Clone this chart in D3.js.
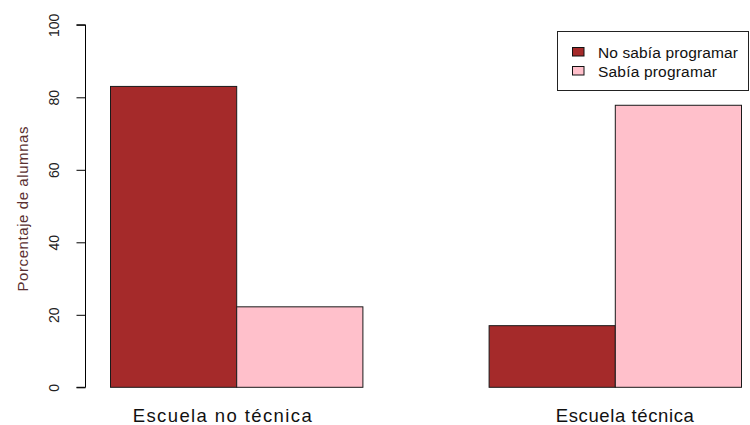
<!DOCTYPE html>
<html>
<head>
<meta charset="utf-8">
<script src="https://cdn.jsdelivr.net/npm/d3@7"></script>
<style>
  body { margin: 0; background: #fff; }
  svg { display: block; font-family: "Liberation Sans", Arial, sans-serif; }
</style>
</head>
<body>
<svg id="chart" width="750" height="425"></svg>
<script>
// Percentage of students by school type and prior programming knowledge
const schools = ["Escuela no técnica", "Escuela técnica"];
const seriesNames = ["No sabía programar", "Sabía programar"];
const noSabia = [83, 17];
const sabia = [22.2, 77.8];
const yTicks = [0, 20, 40, 60, 80, 100];
const colors = ["#A52A2A", "#FFC0CB"];

const svg = d3.select("#chart");
const values = [noSabia, sabia];

// Unit band layout: each group of two bars, one empty unit between groups
const x = d3.scaleLinear().domain([1, 6]).range([110.5, 741.5]);
const y = d3.scaleLinear().domain([0, 100]).range([387.3, 24.8]);

const bars = [];
schools.forEach((s, gi) => {
  seriesNames.forEach((n, si) => {
    const start = 1 + gi * 3 + si;
    bars.push({ x0: start, x1: start + 1, v: values[si][gi], c: colors[si] });
  });
});

svg.append("g").selectAll("rect").data(bars).join("rect")
  .attr("x", d => x(d.x0))
  .attr("width", d => x(d.x1) - x(d.x0))
  .attr("y", d => y(d.v))
  .attr("height", d => y(0) - y(d.v))
  .attr("fill", d => d.c)
  .attr("stroke", "#1a1a1a")
  .attr("stroke-width", 1);

// Y axis with rotated tick labels
const yAxis = d3.axisLeft(y).tickValues(yTicks).tickSize(9);
const gy = svg.append("g").attr("transform", "translate(85.5,0)").call(yAxis);
gy.select(".domain").attr("stroke", "#000").attr("d", `M-9,${y(0)}H0V${y(100)}H-9`);
gy.selectAll(".tick line").attr("stroke", "#000");
gy.selectAll(".tick text")
  .attr("font-size", 14)
  .attr("fill", "#222")
  .attr("font-family", "Liberation Sans, Arial, sans-serif")
  .attr("x", 0)
  .attr("y", 0)
  .attr("dy", 0)
  .attr("text-anchor", "middle")
  .attr("transform", "translate(-26.5,0) rotate(-90)");

// Y axis title
svg.append("text")
  .attr("transform", `translate(28,209) rotate(-90)`)
  .attr("text-anchor", "middle")
  .attr("font-size", 15)
  .attr("fill", "#5a3030")
  .attr("textLength", 165)
  .attr("lengthAdjust", "spacing")
  .text("Porcentaje de alumnas");

// Group labels
const labelShift = [-14.5, 9.5];
const labelLen = [179, 138];
svg.append("g").selectAll("text").data(schools).join("text")
  .attr("x", (d, i) => x(2 + i * 3) + labelShift[i])
  .attr("y", 422)
  .attr("text-anchor", "middle")
  .attr("font-size", 18.5)
  .attr("fill", "#111")
  .attr("textLength", (d, i) => labelLen[i])
  .attr("lengthAdjust", "spacing")
  .text(d => d);

// Legend
const lg = svg.append("g");
lg.append("rect")
  .attr("x", 557.5).attr("y", 31.5)
  .attr("width", 191).attr("height", 59)
  .attr("fill", "#fff").attr("stroke", "#222");
const legendLen = [140, 119];
seriesNames.forEach((n, i) => {
  lg.append("rect")
    .attr("x", 572.5).attr("y", 47.5 + i * 19)
    .attr("width", 11.5).attr("height", 8.5)
    .attr("fill", colors[i]).attr("stroke", "#111");
  lg.append("text")
    .attr("x", 598).attr("y", 58.3 + i * 19)
    .attr("font-size", 15.5)
    .attr("fill", "#111")
    .attr("textLength", legendLen[i])
    .attr("lengthAdjust", "spacing")
    .text(n);
});
</script>
</body>
</html>
